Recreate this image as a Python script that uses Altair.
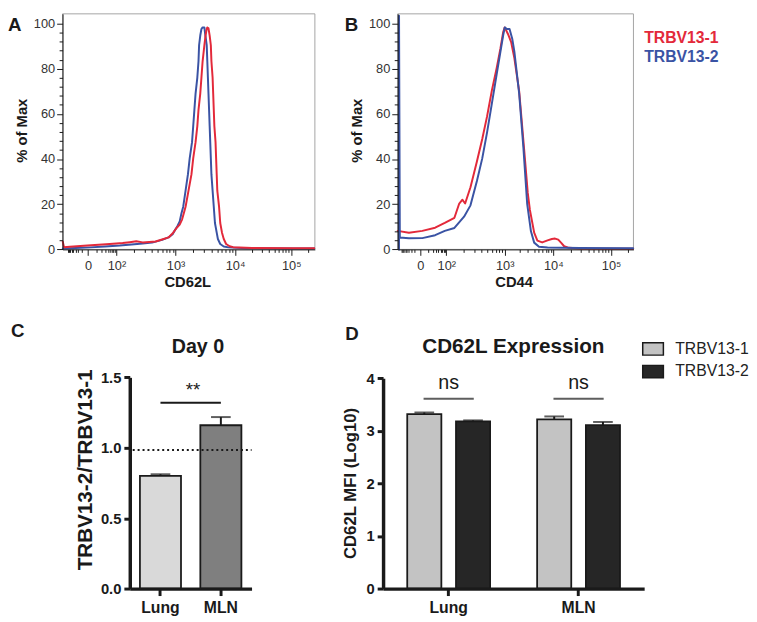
import math
import altair as alt
import pandas as pd

# ---------------- data ----------------
# Flow histograms: x = position on the biexponential axis in decade units (10^3 -> 3)
cd62l_v131_x = [1.08, 1.10, 1.20, 1.50, 1.88, 2.10, 2.22, 2.33, 2.44, 2.55, 2.66, 2.77, 2.88, 2.96, 3.02, 3.07, 3.11, 3.14, 3.17, 3.21,
                3.27, 3.30, 3.34, 3.37, 3.39, 3.42, 3.44, 3.46, 3.49, 3.51, 3.53, 3.54, 3.56, 3.58, 3.60, 3.61, 3.63, 3.64, 3.65, 3.66,
                3.68, 3.69, 3.70, 3.71, 3.74, 3.76, 3.79, 3.82, 3.86, 3.92, 3.98, 4.30, 5.00, 5.36]
cd62l_v131_y = [3.4, 1.0, 1.2, 1.7, 2.4, 2.8, 3.2, 3.6, 3.1, 3.3, 3.5, 4.4, 5.3, 7.4, 9.6, 11.0, 13.2, 16.0, 18.9, 24.6,
                33.2, 40.3, 47.5, 54.6, 61.8, 69.0, 76.1, 83.3, 90.4, 94.7, 97.6, 98.3, 97.9, 94.7, 90.4, 83.3, 76.1, 69.0, 61.8, 54.6,
                47.5, 40.3, 33.2, 26.0, 18.9, 11.7, 7.4, 4.6, 2.4, 1.4, 1.0, 0.6, 0.5, 0.5]
cd62l_v132_x = [1.08, 1.30, 1.55, 1.80, 2.05, 2.25, 2.44, 2.60, 2.77, 2.88, 2.95, 2.99, 3.03, 3.07, 3.10, 3.13, 3.17, 3.21, 3.24, 3.28,
                3.30, 3.32, 3.34, 3.37, 3.39, 3.40, 3.42, 3.44, 3.46, 3.49, 3.50, 3.53, 3.54, 3.55, 3.56, 3.57, 3.58, 3.59, 3.60, 3.61,
                3.63, 3.65, 3.67, 3.70, 3.72, 3.76, 3.82, 3.90, 4.20, 5.00, 5.36]
cd62l_v132_y = [0.4, 0.6, 0.9, 1.3, 1.7, 2.2, 2.6, 3.0, 4.2, 5.3, 6.7, 8.6, 10.3, 12.4, 16.0, 18.9, 26.0, 33.2, 40.3, 47.5,
                54.6, 61.8, 69.0, 76.1, 83.3, 90.4, 94.7, 97.6, 98.3, 98.3, 96.1, 90.4, 83.3, 76.1, 69.0, 61.8, 54.6, 47.5, 40.3, 33.2,
                26.0, 18.9, 11.7, 7.4, 4.6, 2.4, 1.3, 0.9, 0.5, 0.4, 0.4]
cd44_v131_x = [1.00, 1.21, 1.46, 1.70, 1.88, 2.06, 2.15, 2.21, 2.26, 2.36, 2.48, 2.58, 2.67, 2.76, 2.85, 2.92, 2.97, 3.00, 3.06, 3.12,
               3.18, 3.27, 3.36, 3.43, 3.47, 3.55, 3.61, 3.70, 3.80, 3.88, 3.94, 4.00, 4.06, 4.11, 4.20, 4.40, 5.40]
cd44_v131_y = [8.2, 7.4, 8.2, 9.6, 11.7, 14.0, 20.3, 22.0, 20.3, 27.5, 38.9, 48.9, 58.9, 70.4, 80.4, 89.0, 96.1, 98.3, 95.4, 91.8,
               84.7, 70.0, 45.0, 25.0, 17.5, 7.4, 3.9, 3.1, 4.0, 4.6, 4.8, 4.3, 2.8, 1.4, 0.7, 0.4, 0.3]
cd44_v132_x = [1.025, 1.025, 1.04, 1.21, 1.46, 1.70, 1.88, 2.06, 2.24, 2.36, 2.48, 2.58, 2.67, 2.76, 2.85, 2.91, 2.97, 3.00, 3.04, 3.09,
               3.14, 3.18, 3.27, 3.35, 3.42, 3.49, 3.55, 3.64, 3.80, 4.40, 5.40]
cd44_v132_y = [0.0, 103.5, 5.3, 4.9, 5.0, 6.3, 8.2, 9.5, 14.5, 19.5, 30.3, 40.3, 51.8, 64.7, 77.6, 86.1, 94.7, 98.3, 97.6, 97.6,
               93.3, 87.6, 69.0, 44.6, 20.0, 8.0, 3.0, 1.2, 0.8, 0.6, 0.5]

flow_tick_labels = ["0", "10²", "10³", "10⁴", "10⁵"]
cd62l_tick_pos = [1.512, 1.993, 3.0, 4.012, 4.968]
cd44_tick_pos = [1.424, 1.909, 3.0, 3.909, 4.987]
cd62l_domain = [1.076, 5.371]
cd44_domain = [1.0, 5.405]
pct_domain = [0, 104.3]
pct_ticks = [0, 20, 40, 60, 80, 100]
series_names = ["TRBV13-1", "TRBV13-2"]

# Panel C: Day 0 ratio
day0_tissue = ["Lung", "MLN"]
day0_ratio = [0.80, 1.16]
day0_sem = [0.012, 0.058]
day0_ref = 0.985
day0_sig_y = 1.32
day0_sig_text = "**"
day0_sig_text_y = 1.41
day0_ticks = [0.0, 0.5, 1.0, 1.5]

# Panel D: CD62L expression
cd62l_tissue = ["Lung", "Lung", "MLN", "MLN"]
cd62l_series = ["TRBV13-1", "TRBV13-2", "TRBV13-1", "TRBV13-2"]
cd62l_mfi = [3.32, 3.18, 3.22, 3.11]
cd62l_sem = [0.03, 0.02, 0.055, 0.06]
ns_tissue = ["Lung", "MLN"]
ns_line_y = [3.61, 3.61]
ns_text = ["ns", "ns"]
ns_text_y = [3.91, 3.91]
mfi_ticks = [0, 1, 2, 3, 4]

# ---------------- layout (reference pixels -> plot pixels) ----------------
SX, SY = 0.99, 0.985
W, H = 749, 614
FONT = "Liberation Sans"
RED, BLUE = "#e3293a", "#3a53a4"
INK = "#1a1a1a"


def X(r):
    return round((r - 2) * SX, 2)


def Y(r):
    return round(r * SY, 2)


def flow_label_expr(pos, labels):
    expr = f"'{labels[-1]}'"
    for i in range(len(pos) - 2, -1, -1):
        expr = f"datum.value < {pos[i] + 0.01} ? '{labels[i]}' : ({expr})"
    return expr


def minor_ticks(pos, lo, hi):
    out = []
    span = pos[1] - pos[0]
    for m in range(2, 10):
        out.append(pos[0] - span * math.log10(m) * 0.75)
        out.append(pos[0] + span * math.log10(m))
    for k in range(1, len(pos) - 1):
        step = pos[k + 1] - pos[k]
        for m in range(2, 10):
            out.append(pos[k] + step * math.log10(m))
    step = pos[-1] - pos[-2]
    for m in range(2, 10):
        out.append(pos[-1] + step * math.log10(m))
    return [round(v, 4) for v in out if lo < v < hi]


def text_label(text, x, y, size, weight="bold", color=INK, align="center"):
    return alt.Chart(pd.DataFrame({"t": [text]})).mark_text(
        font=FONT, fontSize=size, fontWeight=weight, color=color, align=align, baseline="middle"
    ).encode(text="t:N", x=alt.value(X(x)), y=alt.value(Y(y)))


def hist_panel(curves, tick_pos, dom, px0, px1, xtitle, xtitle_cx, ytitle_cx):
    xs = alt.Scale(domain=dom, range=[X(px0), X(px1)], nice=False, zero=False)
    ys = alt.Scale(domain=pct_domain, range=[Y(244), Y(1)], nice=False, zero=False)
    frame_df = pd.DataFrame({"x": [dom[0]], "x2": [dom[1]], "y": [pct_domain[0]], "y2": [pct_domain[1]]})
    common = dict(grid=False, zindex=1, labelFlush=False, labelOverlap=False,
                  tickColor=INK, domainColor=INK, labelFont=FONT, labelColor="#333",
                  titleFont=FONT, titleColor=INK, titleFontWeight="bold")
    x_axis = alt.Axis(orient="bottom", offset=Y(244) - H, values=tick_pos,
                      labelExpr=flow_label_expr(tick_pos, flow_tick_labels), labelFontSize=13,
                      labelPadding=4, tickSize=6, tickWidth=1, domainWidth=1,
                      title=xtitle, titleFontSize=15, titleX=X(xtitle_cx), titleY=Y(277) - Y(244),
                      titleAlign="center", titleBaseline="middle", **common)
    y_axis = alt.Axis(orient="left", offset=-X(px0), values=pct_ticks, labelFontSize=13,
                      labelPadding=2, tickSize=6, tickWidth=1, domainWidth=1,
                      title="% of Max", titleFontSize=15, titleAngle=270,
                      titleX=X(ytitle_cx) - X(px0), titleY=Y(121),
                      titleAlign="center", titleBaseline="middle", **common)
    x_minor = alt.Axis(orient="bottom", offset=Y(244) - H, values=minor_ticks(tick_pos, dom[0], dom[1]),
                       labels=False, domain=False, tickSize=3, tickWidth=1, tickColor=INK, grid=False,
                       title=None, zindex=1)
    y_minor = alt.Axis(orient="left", offset=-X(px0),
                       values=[v for v in range(4, 104, 4) if v % 20 != 0],
                       labels=False, domain=False, tickSize=3.5, tickWidth=1, tickColor=INK, grid=False,
                       title=None, zindex=1)
    frame = alt.Chart(frame_df).mark_rect(fillOpacity=0, stroke="#a3a3a3", strokeWidth=1).encode(
        x=alt.X("x:Q", scale=xs, axis=x_axis), x2="x2:Q",
        y=alt.Y("y:Q", scale=ys, axis=y_axis), y2="y2:Q")
    minor = alt.Chart(frame_df).mark_point(opacity=0).encode(
        x=alt.X("x:Q", scale=xs, axis=x_minor), y=alt.Y("y:Q", scale=ys, axis=y_minor))
    layers = [frame, minor]
    for xv, yv, col in curves:
        df = pd.DataFrame({"x": xv, "y": yv, "i": list(range(len(xv)))})
        layers.append(alt.Chart(df).mark_line(color=col, strokeWidth=2, strokeJoin="round", strokeCap="round").encode(
            x=alt.X("x:Q", scale=xs, axis=None), y=alt.Y("y:Q", scale=ys, axis=None), order="i:Q"))
    return alt.layer(*layers).resolve_axis(x="independent", y="independent")


panel_a = hist_panel([(cd62l_v132_x, cd62l_v132_y, BLUE), (cd62l_v131_x, cd62l_v131_y, RED)],
                     cd62l_tick_pos, cd62l_domain, 58, 317, "CD62L", 186, 15.5)
panel_b = hist_panel([(cd44_v131_x, cd44_v131_y, RED), (cd44_v132_x, cd44_v132_y, BLUE)],
                     cd44_tick_pos, cd44_domain, 402, 644, "CD44", 521, 360)

# ---------------- panel C ----------------
bar_axis_common = dict(grid=False, zindex=1, labelFlush=False, labelOverlap=False,
                       tickColor=INK, domainColor=INK, labelFont=FONT, labelColor=INK,
                       labelFontWeight="bold", titleFont=FONT, titleColor=INK, titleFontWeight="bold")

c_df = pd.DataFrame({"tissue": day0_tissue, "ratio": day0_ratio,
                     "upper": [m + s for m, s in zip(day0_ratio, day0_sem)]})
cx = alt.Scale(domain=day0_tissue, range=[X(127), X(252)], paddingInner=0.32, paddingOuter=0.168)
cy = alt.Scale(domain=[0, 1.5], range=[Y(594), Y(376)], nice=False, zero=True)
c_xaxis = alt.Axis(orient="bottom", offset=Y(594) - H, labelFontSize=16, labelPadding=4,
                   tickSize=7, tickWidth=3, domainWidth=3.5, title=None, labelAngle=0, **bar_axis_common)
c_yaxis = alt.Axis(orient="left", offset=-X(127), values=day0_ticks, format=".1f", labelFontSize=15,
                   labelPadding=3, tickSize=6, tickWidth=3, domainWidth=3.5,
                   title="TRBV13-2/TRBV13-1", titleFontSize=21, titleAngle=270,
                   titleX=X(82) - X(127), titleY=Y(471), titleAlign="center", titleBaseline="middle",
                   **bar_axis_common)
c_bars = alt.Chart(c_df).mark_bar(stroke=INK, strokeWidth=1.8).encode(
    x=alt.X("tissue:N", scale=cx, axis=c_xaxis, sort=day0_tissue),
    y=alt.Y("ratio:Q", scale=cy, axis=c_yaxis),
    color=alt.Color("tissue:N", scale=alt.Scale(domain=day0_tissue, range=["#d9d9d9", "#7f7f7f"]), legend=None))
c_err = alt.Chart(c_df).mark_rule(color=INK, strokeWidth=2).encode(
    x=alt.X("tissue:N", scale=cx, axis=None), y=alt.Y("ratio:Q", scale=cy, axis=None), y2="upper:Q")
c_cap = alt.Chart(c_df).mark_tick(color=INK, size=20, thickness=2).encode(
    x=alt.X("tissue:N", scale=cx, axis=None), y=alt.Y("upper:Q", scale=cy, axis=None))
c_ref = alt.Chart(pd.DataFrame({"y": [day0_ref]})).mark_rule(
    color=INK, strokeWidth=2, strokeDash=[2, 3]).encode(
    y=alt.Y("y:Q", scale=cy, axis=None), x=alt.value(X(130)), x2=alt.value(X(252)))
c_sig = alt.Chart(pd.DataFrame({"tissue": day0_tissue, "y": [day0_sig_y, day0_sig_y]})).mark_line(
    color=INK, strokeWidth=2).encode(
    x=alt.X("tissue:N", scale=cx, axis=None), y=alt.Y("y:Q", scale=cy, axis=None))
c_star = alt.Chart(pd.DataFrame({"t": [day0_sig_text], "y": [day0_sig_text_y]})).mark_text(
    font=FONT, fontSize=19, color=INK, baseline="middle").encode(
    text="t:N", y=alt.Y("y:Q", scale=cy, axis=None), x=alt.value(X(192)))
panel_c = alt.layer(c_bars, c_err, c_cap, c_ref, c_sig, c_star).resolve_axis(x="independent", y="independent")

# ---------------- panel D ----------------
d_df = pd.DataFrame({"tissue": cd62l_tissue, "series": cd62l_series, "mfi": cd62l_mfi,
                     "upper": [m + s for m, s in zip(cd62l_mfi, cd62l_sem)]})
dx = alt.Scale(domain=ns_tissue, range=[X(387), X(655)], paddingInner=0.362, paddingOuter=0.186)
dxo = alt.Scale(domain=series_names, paddingInner=0.3, paddingOuter=0)
dy = alt.Scale(domain=[0, 4], range=[Y(594), Y(377)], nice=False, zero=True)
d_xaxis = alt.Axis(orient="bottom", offset=Y(594) - H, labelFontSize=16, labelPadding=4,
                   tickSize=7, tickWidth=3, domainWidth=3.5, title=None, labelAngle=0, **bar_axis_common)
d_yaxis = alt.Axis(orient="left", offset=-X(387), values=mfi_ticks, format="d", labelFontSize=15,
                   labelPadding=3, tickSize=6, tickWidth=3, domainWidth=3.5,
                   title="CD62L MFI (Log10)", titleFontSize=17, titleAngle=270,
                   titleX=X(353.5) - X(387), titleY=Y(485), titleAlign="center", titleBaseline="middle",
                   **bar_axis_common)
d_legend = alt.Legend(orient="none", legendX=X(652.5), legendY=Y(335), title=None,
                      symbolType="M-1,-0.6H1V0.6H-1Z", symbolSize=441, symbolStrokeColor=INK,
                      symbolStrokeWidth=1.5, labelFont=FONT, labelFontSize=16, labelColor="#222",
                      labelOffset=11, rowPadding=2, padding=0)
d_bars = alt.Chart(d_df).mark_bar(stroke=INK, strokeWidth=1.8).encode(
    x=alt.X("tissue:N", scale=dx, axis=d_xaxis, sort=ns_tissue),
    xOffset=alt.XOffset("series:N", scale=dxo, sort=series_names),
    y=alt.Y("mfi:Q", scale=dy, axis=d_yaxis),
    color=alt.Color("series:N", scale=alt.Scale(domain=series_names, range=["#c3c3c3", "#262626"]),
                    legend=d_legend))
d_err = alt.Chart(d_df).mark_rule(color=INK, strokeWidth=2).encode(
    x=alt.X("tissue:N", scale=dx, axis=None),
    xOffset=alt.XOffset("series:N", scale=dxo, sort=series_names),
    y=alt.Y("mfi:Q", scale=dy, axis=None), y2="upper:Q")
d_cap = alt.Chart(d_df).mark_tick(color=INK, size=20, thickness=2).encode(
    x=alt.X("tissue:N", scale=dx, axis=None),
    xOffset=alt.XOffset("series:N", scale=dxo, sort=series_names),
    y=alt.Y("upper:Q", scale=dy, axis=None))
ns_df = pd.DataFrame({"tissue": ns_tissue, "y": ns_line_y, "t": ns_text, "ty": ns_text_y})
d_ns_line = alt.Chart(ns_df).mark_tick(color=INK, size=51, thickness=2).encode(
    x=alt.X("tissue:N", scale=dx, axis=None), y=alt.Y("y:Q", scale=dy, axis=None))
d_ns_text = alt.Chart(ns_df).mark_text(font=FONT, fontSize=20, color=INK, baseline="middle").encode(
    x=alt.X("tissue:N", scale=dx, axis=None), y=alt.Y("ty:Q", scale=dy, axis=None), text="t:N")
panel_d = alt.layer(d_bars, d_err, d_cap, d_ns_line, d_ns_text).resolve_axis(x="independent", y="independent")

# ---------------- annotations ----------------
annotations = [
    text_label("A", 9, 13, 19),
    text_label("B", 354.5, 12.5, 19),
    text_label("C", 12, 328, 19),
    text_label("D", 355, 331, 19),
    text_label("TRBV13-1", 655, 25.8, 16, color=RED, align="left"),
    text_label("TRBV13-2", 655, 45.8, 16, color=BLUE, align="left"),
    text_label("Day 0", 197, 345, 20),
    text_label("CD62L Expression", 520.7, 345, 21),
]

chart = alt.layer(panel_a, panel_b, panel_c, panel_d, *annotations).resolve_scale(
    x="independent", y="independent", color="independent"
).resolve_axis(
    x="independent", y="independent"
).properties(
    width=W, height=H, padding=0, background="white"
).configure_view(stroke="transparent")

chart.save("out.html", embed_options={"renderer": "svg", "actions": False})
